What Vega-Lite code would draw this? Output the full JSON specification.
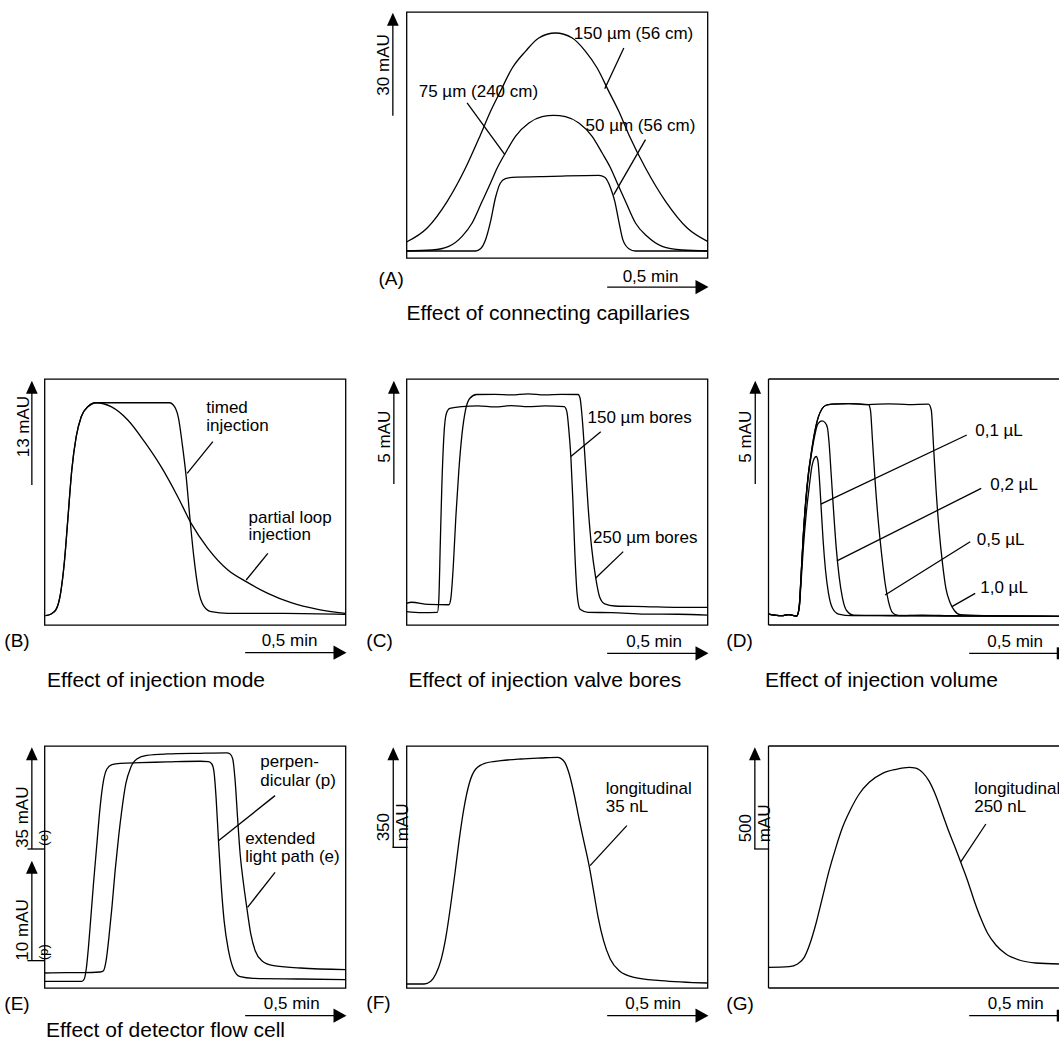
{
"$schema":"https://vega.github.io/schema/vega-lite/v6.json",
"padding":{"left":3.5,"top":11,"right":0,"bottom":0},
"background":"white",
"config":{
 "view":{"stroke":"black","strokeWidth":1.3},
 "text":{"font":"Liberation Sans","fontSize":17,"align":"left","baseline":"alphabetic","color":"black"},
 "line":{"color":"black","strokeWidth":1.3,"interpolate":"monotone"},
 "rule":{"color":"black","strokeWidth":1.3},
 "point":{"filled":true,"color":"black","opacity":1,"size":169}
},
"columns":3,
"bounds":"flush",
"spacing":{"row":121,"column":61},
"concat":[
{"width":1,"height":1,"view":{"stroke":null},"data":{"values":[]},"mark":"point"},
{
 "width":301,"height":246,
 "encoding":{
  "x":{"field":"t","type":"quantitative","scale":{"domain":[0,1.5],"nice":false,"zero":false},"axis":null},
  "y":{"field":"v","type":"quantitative","scale":{"domain":[0,72],"nice":false,"zero":false},"axis":null}
 },
 "layer":[
  {"data":{"values":[
   {"s":"150","t":0,"v":4.68},{"s":"150","t":0.103,"v":8.78},{"s":"150","t":0.203,"v":16.59},{"s":"150","t":0.294,"v":26.34},{"s":"150","t":0.369,"v":36.1},{"s":"150","t":0.419,"v":42.93},{"s":"150","t":0.468,"v":48.78},{"s":"150","t":0.527,"v":55.61},{"s":"150","t":0.593,"v":60.49},{"s":"150","t":0.659,"v":64.39},{"s":"150","t":0.742,"v":65.85},{"s":"150","t":0.826,"v":64.39},{"s":"150","t":0.892,"v":60.49},{"s":"150","t":0.95,"v":55.61},{"s":"150","t":1.008,"v":48.78},{"s":"150","t":1.058,"v":42.93},{"s":"150","t":1.108,"v":36.1},{"s":"150","t":1.191,"v":26.34},{"s":"150","t":1.291,"v":16.59},{"s":"150","t":1.399,"v":8.78},{"s":"150","t":1.5,"v":4.88},
   {"s":"75","t":0,"v":2.05},{"s":"75","t":0.128,"v":2.34},{"s":"75","t":0.211,"v":3.41},{"s":"75","t":0.277,"v":6.34},{"s":"75","t":0.327,"v":10.24},{"s":"75","t":0.377,"v":16.59},{"s":"75","t":0.419,"v":21.95},{"s":"75","t":0.452,"v":26.34},{"s":"75","t":0.493,"v":30.73},{"s":"75","t":0.543,"v":35.61},{"s":"75","t":0.61,"v":39.51},{"s":"75","t":0.676,"v":41.37},{"s":"75","t":0.734,"v":41.76},{"s":"75","t":0.792,"v":41.37},{"s":"75","t":0.859,"v":39.51},{"s":"75","t":0.925,"v":35.61},{"s":"75","t":0.975,"v":30.73},{"s":"75","t":1.017,"v":26.34},{"s":"75","t":1.05,"v":21.95},{"s":"75","t":1.091,"v":16.59},{"s":"75","t":1.141,"v":10.24},{"s":"75","t":1.199,"v":6.34},{"s":"75","t":1.274,"v":3.41},{"s":"75","t":1.374,"v":2.34},{"s":"75","t":1.5,"v":2.05},
   {"s":"50","t":0,"v":2.05},{"s":"50","t":0.344,"v":2.05},{"s":"50","t":0.369,"v":2.73},{"s":"50","t":0.394,"v":5.37},{"s":"50","t":0.419,"v":10.73},{"s":"50","t":0.443,"v":17.56},{"s":"50","t":0.468,"v":21.95},{"s":"50","t":0.493,"v":23.22},{"s":"50","t":0.527,"v":23.61},{"s":"50","t":0.726,"v":23.9},{"s":"50","t":0.958,"v":24.2},{"s":"50","t":0.988,"v":23.61},{"s":"50","t":1.017,"v":20.49},{"s":"50","t":1.038,"v":16.59},{"s":"50","t":1.058,"v":10.73},{"s":"50","t":1.078,"v":5.37},{"s":"50","t":1.108,"v":2.73},{"s":"50","t":1.141,"v":2.05},{"s":"50","t":1.5,"v":2.05}
  ]},"mark":"line","encoding":{"detail":{"field":"s"}}},
  {"data":{"values":[
   {"t":1.083,"v":61.46,"t2":0.988,"v2":49.56},
   {"t":0.302,"v":45.37,"t2":0.49,"v2":30.24},
   {"t":1.191,"v":34.63,"t2":1.033,"v2":18.54},
   {"t":-0.068,"v":41.6,"t2":-0.068,"v2":70},
   {"t":1.0,"v":-8.5,"t2":1.49,"v2":-8.5}
  ]},"mark":"rule","encoding":{"x2":{"field":"t2"},"y2":{"field":"v2"}}},
  {"data":{"values":[{"t":-0.068,"v":71.8}]},"mark":{"type":"point","shape":"M0,0L0.9,2L-0.9,2Z"}},
  {"data":{"values":[{"t":1.505,"v":-8.5}]},"mark":{"type":"point","shape":"M0,0L-2,-1.1L-2,1.1Z"}},
  {"data":{"values":[
   {"t":0.834,"v":64.1,"label":"150 µm (56 cm)"},
   {"t":0.061,"v":47.1,"label":"75 µm (240 cm)"},
   {"t":0.892,"v":37.07,"label":"50 µm (56 cm)"}
  ]},"mark":"text","encoding":{"text":{"field":"label"}}},
  {"data":{"values":[{"t":-0.14,"v":-7.9,"label":"(A)"}]},"mark":{"type":"text","fontSize":19},"encoding":{"text":{"field":"label"}}},
  {"data":{"values":[{"t":0,"v":-18.1,"label":"Effect of connecting capillaries"}]},"mark":{"type":"text","fontSize":21},"encoding":{"text":{"field":"label"}}},
  {"data":{"values":[{"t":1.216,"v":-6.9,"label":"0,5 min"}]},"mark":{"type":"text","align":"center"},"encoding":{"text":{"field":"label"}}},
  {"data":{"values":[{"t":-0.085,"v":56.5,"label":"30 mAU"}]},"mark":{"type":"text","angle":270,"align":"center"},"encoding":{"text":{"field":"label"}}}
 ]
},
{"width":1,"height":1,"view":{"stroke":null},"data":{"values":[]},"mark":"point"},
{
 "width":301,"height":246,
 "encoding":{
  "x":{"field":"t","type":"quantitative","scale":{"domain":[0,1.5],"nice":false,"zero":false},"axis":null},
  "y":{"field":"v","type":"quantitative","scale":{"domain":[0,31],"nice":false,"zero":false},"axis":null}
 },
 "layer":[
  {"data":{"values":[
   {"s":"timed","t":0.005,"v":1.18},{"s":"timed","t":0.033,"v":1.39},{"s":"timed","t":0.058,"v":1.97},{"s":"timed","t":0.08,"v":3.99},{"s":"timed","t":0.1,"v":8.19},{"s":"timed","t":0.116,"v":13.23},{"s":"timed","t":0.136,"v":19.53},{"s":"timed","t":0.158,"v":23.73},{"s":"timed","t":0.183,"v":26.25},{"s":"timed","t":0.216,"v":27.51},{"s":"timed","t":0.257,"v":28.01},{"s":"timed","t":0.448,"v":28.01},{"s":"timed","t":0.623,"v":28.01},{"s":"timed","t":0.648,"v":27.51},{"s":"timed","t":0.668,"v":26.04},{"s":"timed","t":0.686,"v":22.89},{"s":"timed","t":0.706,"v":18.69},{"s":"timed","t":0.724,"v":13.65},{"s":"timed","t":0.744,"v":8.61},{"s":"timed","t":0.767,"v":4.41},{"s":"timed","t":0.794,"v":2.39},{"s":"timed","t":0.831,"v":1.68},{"s":"timed","t":0.914,"v":1.47},{"s":"timed","t":1.196,"v":1.47},{"s":"timed","t":1.5,"v":1.34},
   {"s":"partial","t":0.005,"v":1.18},{"s":"partial","t":0.033,"v":1.39},{"s":"partial","t":0.058,"v":1.97},{"s":"partial","t":0.08,"v":3.99},{"s":"partial","t":0.1,"v":8.19},{"s":"partial","t":0.116,"v":13.23},{"s":"partial","t":0.136,"v":19.53},{"s":"partial","t":0.158,"v":23.73},{"s":"partial","t":0.183,"v":26.25},{"s":"partial","t":0.216,"v":27.51},{"s":"partial","t":0.257,"v":28.01},{"s":"partial","t":0.332,"v":27.51},{"s":"partial","t":0.415,"v":25.83},{"s":"partial","t":0.498,"v":23.1},{"s":"partial","t":0.581,"v":19.95},{"s":"partial","t":0.664,"v":16.17},{"s":"partial","t":0.731,"v":12.81},{"s":"partial","t":0.814,"v":9.66},{"s":"partial","t":0.914,"v":6.93},{"s":"partial","t":1.005,"v":5.46},{"s":"partial","t":1.113,"v":3.99},{"s":"partial","t":1.229,"v":2.81},{"s":"partial","t":1.362,"v":1.97},{"s":"partial","t":1.5,"v":1.47}
  ]},"mark":"line","encoding":{"detail":{"field":"s"}}},
  {"data":{"values":[
   {"t":0.839,"v":23.1,"t2":0.711,"v2":19.11},
   {"t":1.113,"v":9.03,"t2":1.005,"v2":5.67},
   {"t":-0.063,"v":17.64,"t2":-0.063,"v2":30},
   {"t":1.0,"v":-3.49,"t2":1.49,"v2":-3.49}
  ]},"mark":"rule","encoding":{"x2":{"field":"t2"},"y2":{"field":"v2"}}},
  {"data":{"values":[{"t":-0.063,"v":30.79}]},"mark":{"type":"point","shape":"M0,0L0.9,2L-0.9,2Z"}},
  {"data":{"values":[{"t":1.505,"v":-3.49}]},"mark":{"type":"point","shape":"M0,0L-2,-1.1L-2,1.1Z"}},
  {"data":{"values":[
   {"t":0.806,"v":26.75,"label":"timed"},
   {"t":0.806,"v":24.44,"label":"injection"},
   {"t":1.017,"v":12.89,"label":"partial loop"},
   {"t":1.017,"v":10.71,"label":"injection"}
  ]},"mark":"text","encoding":{"text":{"field":"label"}}},
  {"data":{"values":[{"t":-0.2,"v":-2.73,"label":"(B)"}]},"mark":{"type":"text","fontSize":19},"encoding":{"text":{"field":"label"}}},
  {"data":{"values":[{"t":0.013,"v":-7.81,"label":"Effect of injection mode"}]},"mark":{"type":"text","fontSize":21},"encoding":{"text":{"field":"label"}}},
  {"data":{"values":[{"t":1.221,"v":-2.65,"label":"0,5 min"}]},"mark":{"type":"text","align":"center"},"encoding":{"text":{"field":"label"}}},
  {"data":{"values":[{"t":-0.075,"v":25.0,"label":"13 mAU"}]},"mark":{"type":"text","angle":270,"align":"center"},"encoding":{"text":{"field":"label"}}}
 ]
},
{
 "width":301,"height":246,
 "encoding":{
  "x":{"field":"t","type":"quantitative","scale":{"domain":[0,1.5],"nice":false,"zero":false},"axis":null},
  "y":{"field":"v","type":"quantitative","scale":{"domain":[0,11.9],"nice":false,"zero":false},"axis":null}
 },
 "layer":[
  {"data":{"values":[
   {"s":"150","t":0,"v":0.645},{"s":"150","t":0.075,"v":0.597},{"s":"150","t":0.154,"v":0.613},{"s":"150","t":0.161,"v":1.21},{"s":"150","t":0.168,"v":3.79},{"s":"150","t":0.176,"v":6.69},{"s":"150","t":0.186,"v":9.11},{"s":"150","t":0.199,"v":10.24},{"s":"150","t":0.216,"v":10.48},{"s":"150","t":0.274,"v":10.56},{"s":"150","t":0.357,"v":10.6},{"s":"150","t":0.44,"v":10.55},{"s":"150","t":0.523,"v":10.61},{"s":"150","t":0.606,"v":10.56},{"s":"150","t":0.689,"v":10.6},{"s":"150","t":0.786,"v":10.56},{"s":"150","t":0.799,"v":10.32},{"s":"150","t":0.809,"v":9.44},{"s":"150","t":0.819,"v":8.15},{"s":"150","t":0.829,"v":6.05},{"s":"150","t":0.839,"v":3.47},{"s":"150","t":0.85,"v":1.53},{"s":"150","t":0.865,"v":0.76},{"s":"150","t":0.905,"v":0.61},{"s":"150","t":1.022,"v":0.6},{"s":"150","t":1.188,"v":0.53},{"s":"150","t":1.354,"v":0.52},{"s":"150","t":1.5,"v":0.48},
   {"s":"250","t":0,"v":1.05},{"s":"250","t":0.025,"v":1.1},{"s":"250","t":0.108,"v":1.0},{"s":"250","t":0.211,"v":0.98},{"s":"250","t":0.221,"v":1.29},{"s":"250","t":0.233,"v":2.82},{"s":"250","t":0.246,"v":5.24},{"s":"250","t":0.261,"v":7.5},{"s":"250","t":0.277,"v":9.27},{"s":"250","t":0.294,"v":10.4},{"s":"250","t":0.316,"v":10.97},{"s":"250","t":0.349,"v":11.15},{"s":"250","t":0.44,"v":11.16},{"s":"250","t":0.523,"v":11.13},{"s":"250","t":0.606,"v":11.18},{"s":"250","t":0.689,"v":11.13},{"s":"250","t":0.772,"v":11.16},{"s":"250","t":0.855,"v":11.15},{"s":"250","t":0.865,"v":10.97},{"s":"250","t":0.875,"v":10.08},{"s":"250","t":0.889,"v":8.15},{"s":"250","t":0.905,"v":5.73},{"s":"250","t":0.922,"v":3.79},{"s":"250","t":0.942,"v":2.34},{"s":"250","t":0.963,"v":1.34},{"s":"250","t":0.988,"v":1.02},{"s":"250","t":1.038,"v":0.92},{"s":"250","t":1.188,"v":0.89},{"s":"250","t":1.354,"v":0.85},{"s":"250","t":1.5,"v":0.85}
  ]},"mark":"line","encoding":{"detail":{"field":"s"}}},
  {"data":{"values":[
   {"t":0.968,"v":9.35,"t2":0.819,"v2":8.15},
   {"t":1.08,"v":3.55,"t2":0.942,"v2":2.26},
   {"t":-0.063,"v":6.82,"t2":-0.063,"v2":11.5},
   {"t":1.0,"v":-1.37,"t2":1.49,"v2":-1.37}
  ]},"mark":"rule","encoding":{"x2":{"field":"t2"},"y2":{"field":"v2"}}},
  {"data":{"values":[{"t":-0.063,"v":11.82}]},"mark":{"type":"point","shape":"M0,0L0.9,2L-0.9,2Z"}},
  {"data":{"values":[{"t":1.505,"v":-1.37}]},"mark":{"type":"point","shape":"M0,0L-2,-1.1L-2,1.1Z"}},
  {"data":{"values":[
   {"t":0.902,"v":9.76,"label":"150 µm bores"},
   {"t":0.93,"v":3.95,"label":"250 µm bores"}
  ]},"mark":"text","encoding":{"text":{"field":"label"}}},
  {"data":{"values":[{"t":-0.2,"v":-1.05,"label":"(C)"}]},"mark":{"type":"text","fontSize":19},"encoding":{"text":{"field":"label"}}},
  {"data":{"values":[{"t":0.01,"v":-3.0,"label":"Effect of injection valve bores"}]},"mark":{"type":"text","fontSize":21},"encoding":{"text":{"field":"label"}}},
  {"data":{"values":[{"t":1.234,"v":-1.05,"label":"0,5 min"}]},"mark":{"type":"text","align":"center"},"encoding":{"text":{"field":"label"}}},
  {"data":{"values":[{"t":-0.083,"v":9.11,"label":"5 mAU"}]},"mark":{"type":"text","angle":270,"align":"center"},"encoding":{"text":{"field":"label"}}}
 ]
},
{
 "width":291,"height":246,
 "view":{"stroke":null},
 "encoding":{
  "x":{"field":"t","type":"quantitative","scale":{"domain":[0,1.45],"nice":false,"zero":false},"axis":null},
  "y":{"field":"v","type":"quantitative","scale":{"domain":[0,11.9],"nice":false,"zero":false},"axis":null}
 },
 "layer":[
  {"data":{"values":[
   {"s":"1.0","t":0,"v":0.53},{"s":"1.0","t":0.066,"v":0.45},{"s":"1.0","t":0.1,"v":0.5},{"s":"1.0","t":0.141,"v":0.435},{"s":"1.0","t":0.153,"v":0.89},{"s":"1.0","t":0.163,"v":2.5},{"s":"1.0","t":0.174,"v":4.44},{"s":"1.0","t":0.186,"v":6.05},{"s":"1.0","t":0.199,"v":7.34},{"s":"1.0","t":0.213,"v":8.31},{"s":"1.0","t":0.229,"v":9.27},{"s":"1.0","t":0.249,"v":10.08},{"s":"1.0","t":0.266,"v":10.45},{"s":"1.0","t":0.286,"v":10.63},{"s":"1.0","t":0.316,"v":10.68},{"s":"1.0","t":0.399,"v":10.71},{"s":"1.0","t":0.498,"v":10.66},{"s":"1.0","t":0.598,"v":10.7},{"s":"1.0","t":0.698,"v":10.66},{"s":"1.0","t":0.797,"v":10.68},{"s":"1.0","t":0.811,"v":10.4},{"s":"1.0","t":0.822,"v":8.71},{"s":"1.0","t":0.835,"v":6.53},{"s":"1.0","t":0.85,"v":4.6},{"s":"1.0","t":0.867,"v":2.98},{"s":"1.0","t":0.884,"v":1.77},{"s":"1.0","t":0.905,"v":1.08},{"s":"1.0","t":0.927,"v":0.69},{"s":"1.0","t":0.955,"v":0.5},{"s":"1.0","t":1.096,"v":0.45},{"s":"1.0","t":1.262,"v":0.43},{"s":"1.0","t":1.45,"v":0.42},
   {"s":"0.5","t":0,"v":0.53},{"s":"0.5","t":0.066,"v":0.45},{"s":"0.5","t":0.1,"v":0.5},{"s":"0.5","t":0.141,"v":0.435},{"s":"0.5","t":0.153,"v":0.89},{"s":"0.5","t":0.163,"v":2.5},{"s":"0.5","t":0.174,"v":4.44},{"s":"0.5","t":0.186,"v":6.05},{"s":"0.5","t":0.199,"v":7.34},{"s":"0.5","t":0.213,"v":8.31},{"s":"0.5","t":0.229,"v":9.27},{"s":"0.5","t":0.249,"v":10.08},{"s":"0.5","t":0.266,"v":10.45},{"s":"0.5","t":0.286,"v":10.63},{"s":"0.5","t":0.316,"v":10.68},{"s":"0.5","t":0.399,"v":10.71},{"s":"0.5","t":0.498,"v":10.66},{"s":"0.5","t":0.508,"v":10.4},{"s":"0.5","t":0.518,"v":8.95},{"s":"0.5","t":0.532,"v":6.85},{"s":"0.5","t":0.548,"v":4.92},{"s":"0.5","t":0.565,"v":3.31},{"s":"0.5","t":0.581,"v":2.02},{"s":"0.5","t":0.598,"v":1.13},{"s":"0.5","t":0.618,"v":0.6},{"s":"0.5","t":0.648,"v":0.45},{"s":"0.5","t":0.764,"v":0.48},{"s":"0.5","t":0.93,"v":0.44},{"s":"0.5","t":1.45,"v":0.42},
   {"s":"0.2","t":0,"v":0.53},{"s":"0.2","t":0.066,"v":0.45},{"s":"0.2","t":0.1,"v":0.5},{"s":"0.2","t":0.141,"v":0.435},{"s":"0.2","t":0.153,"v":0.87},{"s":"0.2","t":0.163,"v":2.45},{"s":"0.2","t":0.174,"v":4.35},{"s":"0.2","t":0.186,"v":5.95},{"s":"0.2","t":0.199,"v":7.25},{"s":"0.2","t":0.213,"v":8.2},{"s":"0.2","t":0.229,"v":9.1},{"s":"0.2","t":0.246,"v":9.73},{"s":"0.2","t":0.266,"v":9.87},{"s":"0.2","t":0.282,"v":9.79},{"s":"0.2","t":0.294,"v":9.52},{"s":"0.2","t":0.302,"v":8.79},{"s":"0.2","t":0.312,"v":7.34},{"s":"0.2","t":0.324,"v":5.56},{"s":"0.2","t":0.337,"v":3.79},{"s":"0.2","t":0.352,"v":2.34},{"s":"0.2","t":0.369,"v":1.29},{"s":"0.2","t":0.39,"v":0.69},{"s":"0.2","t":0.424,"v":0.48},{"s":"0.2","t":0.6,"v":0.46},{"s":"0.2","t":1.45,"v":0.42},
   {"s":"0.1","t":0,"v":0.53},{"s":"0.1","t":0.066,"v":0.45},{"s":"0.1","t":0.1,"v":0.5},{"s":"0.1","t":0.141,"v":0.435},{"s":"0.1","t":0.153,"v":0.81},{"s":"0.1","t":0.163,"v":2.18},{"s":"0.1","t":0.174,"v":3.79},{"s":"0.1","t":0.188,"v":5.4},{"s":"0.1","t":0.203,"v":6.69},{"s":"0.1","t":0.216,"v":7.66},{"s":"0.1","t":0.228,"v":8.06},{"s":"0.1","t":0.238,"v":8.15},{"s":"0.1","t":0.246,"v":7.95},{"s":"0.1","t":0.254,"v":7.02},{"s":"0.1","t":0.262,"v":5.73},{"s":"0.1","t":0.272,"v":4.11},{"s":"0.1","t":0.284,"v":2.66},{"s":"0.1","t":0.299,"v":1.53},{"s":"0.1","t":0.319,"v":0.81},{"s":"0.1","t":0.349,"v":0.53},{"s":"0.1","t":0.415,"v":0.45},{"s":"0.1","t":1.45,"v":0.42}
  ]},"mark":"line","encoding":{"detail":{"field":"s"}}},
  {"data":{"values":[
   {"t":0,"v":0,"t2":1.45,"v2":0},
   {"t":0,"v":11.9,"t2":1.45,"v2":11.9},
   {"t":0,"v":0,"t2":0,"v2":11.9},
   {"t":0.988,"v":9.19,"t2":0.261,"v2":5.85},
   {"t":1.06,"v":6.61,"t2":0.341,"v2":3.1},
   {"t":1.005,"v":4.03,"t2":0.581,"v2":1.45},
   {"t":1.03,"v":1.53,"t2":0.914,"v2":0.89},
   {"t":-0.066,"v":6.82,"t2":-0.066,"v2":11.5},
   {"t":1.0,"v":-1.37,"t2":1.45,"v2":-1.37}
  ]},"mark":"rule","encoding":{"x2":{"field":"t2"},"y2":{"field":"v2"}}},
  {"data":{"values":[{"t":1.445,"v":-1.66,"v2":-1.08}]},"mark":{"type":"rule","strokeWidth":3.5},"encoding":{"y2":{"field":"v2"}}},
  {"data":{"values":[{"t":-0.066,"v":11.82}]},"mark":{"type":"point","shape":"M0,0L0.9,2L-0.9,2Z"}},
  {"data":{"values":[
   {"t":1.03,"v":9.15,"label":"0,1 µL"},
   {"t":1.105,"v":6.53,"label":"0,2 µL"},
   {"t":1.038,"v":3.87,"label":"0,5 µL"},
   {"t":1.055,"v":1.53,"label":"1,0 µL"}
  ]},"mark":"text","encoding":{"text":{"field":"label"}}},
  {"data":{"values":[{"t":-0.21,"v":-1.05,"label":"(D)"}]},"mark":{"type":"text","fontSize":19},"encoding":{"text":{"field":"label"}}},
  {"data":{"values":[{"t":-0.018,"v":-3.0,"label":"Effect of injection volume"}]},"mark":{"type":"text","fontSize":21},"encoding":{"text":{"field":"label"}}},
  {"data":{"values":[{"t":1.229,"v":-1.05,"label":"0,5 min"}]},"mark":{"type":"text","align":"center"},"encoding":{"text":{"field":"label"}}},
  {"data":{"values":[{"t":-0.086,"v":9.11,"label":"5 mAU"}]},"mark":{"type":"text","angle":270,"align":"center"},"encoding":{"text":{"field":"label"}}}
 ]
},
{
 "width":301,"height":242,
 "resolve":{"scale":{"y":"independent"}},
 "encoding":{
  "x":{"field":"t","type":"quantitative","scale":{"domain":[0,1.5],"nice":false,"zero":false},"axis":null},
  "y":{"field":"v","type":"quantitative","scale":{"domain":[0,23.8],"nice":false,"zero":false},"axis":null}
 },
 "layer":[
  {"data":{"values":[
   {"s":"p","t":0,"v":0.656},{"s":"p","t":0.111,"v":0.656},{"s":"p","t":0.186,"v":0.656},{"s":"p","t":0.198,"v":0.885},{"s":"p","t":0.208,"v":1.87},{"s":"p","t":0.219,"v":4.0},{"s":"p","t":0.231,"v":6.95},{"s":"p","t":0.244,"v":10.23},{"s":"p","t":0.261,"v":14.16},{"s":"p","t":0.277,"v":17.77},{"s":"p","t":0.294,"v":20.39},{"s":"p","t":0.311,"v":21.54},{"s":"p","t":0.336,"v":21.97},{"s":"p","t":0.377,"v":22.1},{"s":"p","t":0.477,"v":22.16},{"s":"p","t":0.61,"v":22.23},{"s":"p","t":0.776,"v":22.3},{"s":"p","t":0.817,"v":22.26},{"s":"p","t":0.834,"v":22.03},{"s":"p","t":0.845,"v":21.21},{"s":"p","t":0.855,"v":18.75},{"s":"p","t":0.867,"v":14.49},{"s":"p","t":0.879,"v":10.56},{"s":"p","t":0.895,"v":6.62},{"s":"p","t":0.917,"v":3.67},{"s":"p","t":0.942,"v":1.87},{"s":"p","t":0.975,"v":1.11},{"s":"p","t":1.041,"v":0.95},{"s":"p","t":1.274,"v":0.885},{"s":"p","t":1.5,"v":0.82}
  ]},"mark":"line","encoding":{"detail":{"field":"s"}}},
  {"data":{"values":[
   {"s":"e","t":0,"v":5.16},{"s":"e","t":0.111,"v":5.28},{"s":"e","t":0.194,"v":5.28},{"s":"e","t":0.277,"v":5.51},{"s":"e","t":0.294,"v":5.97},{"s":"e","t":0.307,"v":9.41},{"s":"e","t":0.321,"v":17.44},{"s":"e","t":0.336,"v":27.77},{"s":"e","t":0.352,"v":40.4},{"s":"e","t":0.369,"v":51.87},{"s":"e","t":0.385,"v":61.05},{"s":"e","t":0.405,"v":70.23},{"s":"e","t":0.43,"v":75.97},{"s":"e","t":0.46,"v":78.84},{"s":"e","t":0.51,"v":80.1},{"s":"e","t":0.61,"v":80.56},{"s":"e","t":0.776,"v":80.79},{"s":"e","t":0.909,"v":80.9},{"s":"e","t":0.925,"v":80.56},{"s":"e","t":0.938,"v":78.84},{"s":"e","t":0.95,"v":71.38},{"s":"e","t":0.962,"v":58.76},{"s":"e","t":0.975,"v":46.13},{"s":"e","t":0.992,"v":35.8},{"s":"e","t":1.008,"v":27.77},{"s":"e","t":1.028,"v":18.59},{"s":"e","t":1.05,"v":12.85},{"s":"e","t":1.083,"v":9.41},{"s":"e","t":1.141,"v":7.69},{"s":"e","t":1.274,"v":6.89},{"s":"e","t":1.5,"v":6.31}
  ]},"mark":"line","encoding":{"detail":{"field":"s"},"y":{"field":"v","type":"quantitative","scale":{"domain":[0,83.3],"nice":false,"zero":false},"axis":null}}},
  {"data":{"values":[
   {"t":1.149,"v":18.92,"t2":0.867,"v2":14.49},
   {"t":1.149,"v":11.38,"t2":1.012,"v2":7.93},
   {"t":-0.063,"v":13.67,"t2":-0.063,"v2":23.3},
   {"t":-0.063,"v":2.69,"t2":-0.063,"v2":12.2},
   {"t":-0.085,"v":13.67,"t2":0,"v2":13.67},
   {"t":-0.085,"v":2.69,"t2":0,"v2":2.69},
   {"t":1.0,"v":-2.72,"t2":1.49,"v2":-2.72}
  ]},"mark":"rule","encoding":{"x2":{"field":"t2"},"y2":{"field":"v2"}}},
  {"data":{"values":[{"t":-0.063,"v":23.67},{"t":-0.063,"v":12.52}]},"mark":{"type":"point","shape":"M0,0L0.9,2L-0.9,2Z"}},
  {"data":{"values":[{"t":1.505,"v":-2.72}]},"mark":{"type":"point","shape":"M0,0L-2,-1.1L-2,1.1Z"}},
  {"data":{"values":[
   {"t":1.075,"v":21.7,"label":"perpen-"},
   {"t":1.075,"v":19.9,"label":"dicular (p)"},
   {"t":1.0,"v":14.16,"label":"extended"},
   {"t":1.0,"v":12.36,"label":"light path (e)"}
  ]},"mark":"text","encoding":{"text":{"field":"label"}}},
  {"data":{"values":[{"t":-0.2,"v":-2.16,"label":"(E)"}]},"mark":{"type":"text","fontSize":19},"encoding":{"text":{"field":"label"}}},
  {"data":{"values":[{"t":0.008,"v":-4.79,"label":"Effect of detector flow cell"}]},"mark":{"type":"text","fontSize":21},"encoding":{"text":{"field":"label"}}},
  {"data":{"values":[{"t":1.232,"v":-2.07,"label":"0,5 min"}]},"mark":{"type":"text","align":"center"},"encoding":{"text":{"field":"label"}}},
  {"data":{"values":[{"t":-0.08,"v":13.77,"label":"35 mAU"},{"t":-0.08,"v":2.69,"label":"10 mAU"}]},"mark":{"type":"text","angle":270,"align":"left"},"encoding":{"text":{"field":"label"}}},
  {"data":{"values":[{"t":0.015,"v":14.0,"label":"(e)"},{"t":0.015,"v":2.75,"label":"(p)"}]},"mark":{"type":"text","angle":270,"align":"left","fontSize":13},"encoding":{"text":{"field":"label"}}}
 ]
},
{
 "width":301,"height":242,
 "encoding":{
  "x":{"field":"t","type":"quantitative","scale":{"domain":[0,1.5],"nice":false,"zero":false},"axis":null},
  "y":{"field":"v","type":"quantitative","scale":{"domain":[0,847],"nice":false,"zero":false},"axis":null}
 },
 "layer":[
  {"data":{"values":[
   {"s":"35","t":0,"v":14.0},{"s":"35","t":0.088,"v":14.0},{"s":"35","t":0.121,"v":23.3},{"s":"35","t":0.146,"v":49.0},{"s":"35","t":0.171,"v":95.7},{"s":"35","t":0.196,"v":177.3},{"s":"35","t":0.221,"v":294.0},{"s":"35","t":0.241,"v":399.0},{"s":"35","t":0.262,"v":515.7},{"s":"35","t":0.287,"v":632.3},{"s":"35","t":0.312,"v":714.0},{"s":"35","t":0.345,"v":766.5},{"s":"35","t":0.395,"v":787.5},{"s":"35","t":0.47,"v":795.7},{"s":"35","t":0.57,"v":801.5},{"s":"35","t":0.669,"v":805.0},{"s":"35","t":0.752,"v":807.3},{"s":"35","t":0.769,"v":803.8},{"s":"35","t":0.789,"v":789.8},{"s":"35","t":0.811,"v":749.0},{"s":"35","t":0.835,"v":679.0},{"s":"35","t":0.86,"v":591.5},{"s":"35","t":0.885,"v":509.8},{"s":"35","t":0.91,"v":428.2},{"s":"35","t":0.932,"v":340.7},{"s":"35","t":0.955,"v":247.3},{"s":"35","t":0.982,"v":165.7},{"s":"35","t":1.015,"v":101.5},{"s":"35","t":1.06,"v":60.7},{"s":"35","t":1.134,"v":37.3},{"s":"35","t":1.267,"v":25.7},{"s":"35","t":1.5,"v":17.5}
  ]},"mark":"line","encoding":{"detail":{"field":"s"}}},
  {"data":{"values":[
   {"t":1.098,"v":568.2,"t2":0.915,"v2":428.2},
   {"t":-0.066,"v":492.3,"t2":-0.066,"v2":830},
   {"t":-0.07,"v":492.3,"t2":0.005,"v2":492.3},
   {"t":1.0,"v":-96.8,"t2":1.49,"v2":-96.8}
  ]},"mark":"rule","encoding":{"x2":{"field":"t2"},"y2":{"field":"v2"}}},
  {"data":{"values":[{"t":-0.066,"v":842.3}]},"mark":{"type":"point","shape":"M0,0L0.9,2L-0.9,2Z"}},
  {"data":{"values":[{"t":1.505,"v":-96.8}]},"mark":{"type":"point","shape":"M0,0L-2,-1.1L-2,1.1Z"}},
  {"data":{"values":[
   {"t":0.993,"v":679,"label":"longitudinal"},
   {"t":0.993,"v":614.8,"label":"35 nL"}
  ]},"mark":"text","encoding":{"text":{"field":"label"}}},
  {"data":{"values":[{"t":-0.2,"v":-73.5,"label":"(F)"}]},"mark":{"type":"text","fontSize":19},"encoding":{"text":{"field":"label"}}},
  {"data":{"values":[{"t":1.229,"v":-73.5,"label":"0,5 min"}]},"mark":{"type":"text","align":"center"},"encoding":{"text":{"field":"label"}}},
  {"data":{"values":[{"t":-0.086,"v":513.3,"label":"350"},{"t":0.005,"v":513.3,"label":"mAU"}]},"mark":{"type":"text","angle":270,"align":"left"},"encoding":{"text":{"field":"label"}}}
 ]
},
{
 "width":291,"height":242,
 "view":{"stroke":null},
 "encoding":{
  "x":{"field":"t","type":"quantitative","scale":{"domain":[0,1.45],"nice":false,"zero":false},"axis":null},
  "y":{"field":"v","type":"quantitative","scale":{"domain":[0,1190],"nice":false,"zero":false},"axis":null}
 },
 "layer":[
  {"data":{"values":[
   {"s":"250","t":0,"v":101.6},{"s":"250","t":0.103,"v":104.9},{"s":"250","t":0.145,"v":118.0},{"s":"250","t":0.178,"v":150.8},{"s":"250","t":0.206,"v":216.3},{"s":"250","t":0.236,"v":314.7},{"s":"250","t":0.269,"v":445.8},{"s":"250","t":0.302,"v":576.9},{"s":"250","t":0.336,"v":691.7},{"s":"250","t":0.369,"v":790.0},{"s":"250","t":0.41,"v":880.1},{"s":"250","t":0.452,"v":953.9},{"s":"250","t":0.502,"v":1011.3},{"s":"250","t":0.568,"v":1055.5},{"s":"250","t":0.635,"v":1075.2},{"s":"250","t":0.701,"v":1085.0},{"s":"250","t":0.734,"v":1081.7},{"s":"250","t":0.767,"v":1060.4},{"s":"250","t":0.801,"v":1016.2},{"s":"250","t":0.834,"v":945.7},{"s":"250","t":0.867,"v":855.6},{"s":"250","t":0.9,"v":765.4},{"s":"250","t":0.933,"v":683.5},{"s":"250","t":0.958,"v":617.9},{"s":"250","t":0.992,"v":527.8},{"s":"250","t":1.025,"v":429.4},{"s":"250","t":1.058,"v":342.6},{"s":"250","t":1.091,"v":270.5},{"s":"250","t":1.133,"v":211.5},{"s":"250","t":1.183,"v":167.2},{"s":"250","t":1.249,"v":137.7},{"s":"250","t":1.332,"v":122.9},{"s":"250","t":1.45,"v":118.0}
  ]},"mark":"line","encoding":{"detail":{"field":"s"}}},
  {"data":{"values":[
   {"t":0,"v":0,"t2":1.45,"v2":0},
   {"t":0,"v":1190,"t2":1.45,"v2":1190},
   {"t":0,"v":0,"t2":0,"v2":1190},
   {"t":1.083,"v":806.4,"t2":0.958,"v2":620},
   {"t":-0.068,"v":683.5,"t2":-0.068,"v2":1170},
   {"t":-0.071,"v":683.5,"t2":0.003,"v2":683.5},
   {"t":1.0,"v":-136,"t2":1.45,"v2":-136}
  ]},"mark":"rule","encoding":{"x2":{"field":"t2"},"y2":{"field":"v2"}}},
  {"data":{"values":[{"t":1.445,"v":-165,"v2":-107}]},"mark":{"type":"rule","strokeWidth":3.5},"encoding":{"y2":{"field":"v2"}}},
  {"data":{"values":[{"t":-0.068,"v":1183.4}]},"mark":{"type":"point","shape":"M0,0L0.9,2L-0.9,2Z"}},
  {"data":{"values":[
   {"t":1.025,"v":953.9,"label":"longitudinal"},
   {"t":1.025,"v":863.8,"label":"250 nL"}
  ]},"mark":"text","encoding":{"text":{"field":"label"}}},
  {"data":{"values":[{"t":-0.21,"v":-108.2,"label":"(G)"}]},"mark":{"type":"text","fontSize":19},"encoding":{"text":{"field":"label"}}},
  {"data":{"values":[{"t":1.232,"v":-103.3,"label":"0,5 min"}]},"mark":{"type":"text","align":"center"},"encoding":{"text":{"field":"label"}}},
  {"data":{"values":[{"t":-0.088,"v":716.2,"label":"500"},{"t":0.007,"v":716.2,"label":"mAU"}]},"mark":{"type":"text","angle":270,"align":"left"},"encoding":{"text":{"field":"label"}}}
 ]
}
]
}
